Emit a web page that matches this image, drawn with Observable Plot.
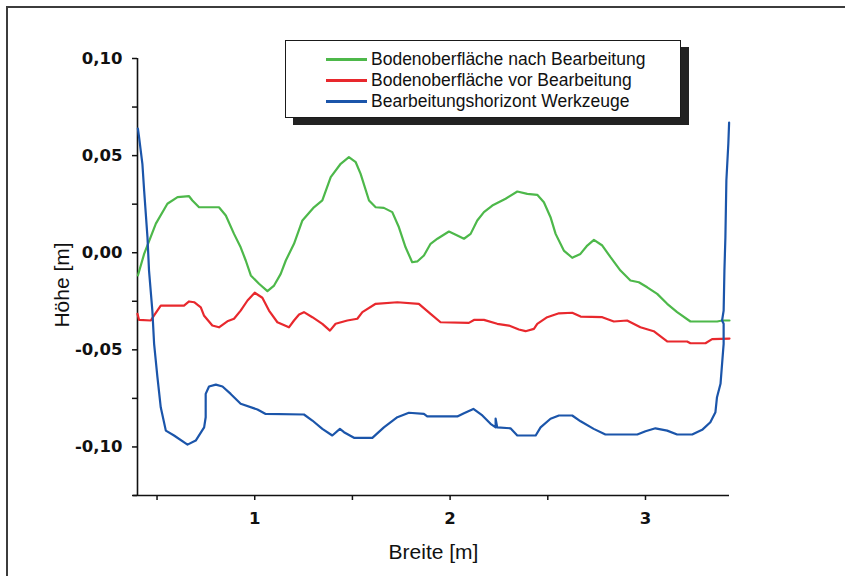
<!DOCTYPE html>
<html>
<head>
<meta charset="utf-8">
<script src="https://cdn.jsdelivr.net/npm/d3@7"></script>
<script src="https://cdn.jsdelivr.net/npm/@observablehq/plot@0.6"></script>
<style>
  html, body { margin: 0; padding: 0; background: #fff; }
  #wrap { position: relative; width: 845px; height: 576px; overflow: hidden; font-family: "Liberation Sans", Arial, sans-serif; }
  #frame { position: absolute; left: 6px; top: 6px; right: -10px; bottom: -10px; border-left: 2px solid #3c3c3c; border-top: 2px solid #3c3c3c; pointer-events: none; }
  #chart { position: absolute; left: 0; top: 0; }
  #legend { position: absolute; left: 285px; top: 40px; width: 394px; height: 76px; background: #fff; border: 1.5px solid #1a1a1a; box-shadow: 8px 7px 0 #222; }
  .row { position: absolute; left: 0; height: 21px; font-size: 17.5px; color: #111; white-space: nowrap; }
  .sw { position: absolute; left: 40px; width: 41px; height: 0; border-top: 3px solid; top: 9px; }
  .lab { position: absolute; left: 85px; top: 0; line-height: 21px; }
</style>
</head>
<body>
<div id="wrap">
  <div id="chart"></div>
  <div id="frame"></div>
  <div id="legend"></div>
</div>
<script>
// Series names and colours
const seriesNames = ["Bodenoberfläche nach Bearbeitung", "Bodenoberfläche vor Bearbeitung", "Bearbeitungshorizont Werkzeuge"];
const seriesColors = ["#4db84a", "#e8282d", "#1b55aa"];

// Bodenoberfläche nach Bearbeitung (green)
const nachX = [0.402,0.434,0.494,0.553,0.605,0.664,0.681,0.715,0.817,0.852,0.894,0.928,0.954,0.980,1.022,1.065,1.099,1.133,1.159,1.201,1.244,1.303,1.346,1.389,1.440,1.482,1.517,1.542,1.585,1.619,1.661,1.704,1.738,1.772,1.806,1.832,1.866,1.900,1.935,1.994,2.037,2.071,2.105,2.139,2.173,2.216,2.284,2.344,2.395,2.446,2.480,2.514,2.540,2.582,2.625,2.667,2.702,2.736,2.779,2.821,2.872,2.923,2.966,3.009,3.060,3.111,3.162,3.230,3.367,3.392,3.430];
const nachY = [-0.0117,-0.0006,0.0150,0.0252,0.0286,0.0291,0.0269,0.0234,0.0234,0.0192,0.0097,0.0028,-0.0040,-0.0117,-0.0160,-0.0198,-0.0169,-0.0109,-0.0040,0.0046,0.0166,0.0234,0.0269,0.0389,0.0458,0.0492,0.0466,0.0406,0.0269,0.0234,0.0231,0.0209,0.0131,0.0028,-0.0049,-0.0045,-0.0014,0.0046,0.0072,0.0109,0.0089,0.0072,0.0097,0.0166,0.0209,0.0243,0.0278,0.0315,0.0303,0.0298,0.0260,0.0183,0.0097,0.0011,-0.0026,-0.0006,0.0037,0.0066,0.0037,-0.0023,-0.0092,-0.0143,-0.0152,-0.0178,-0.0212,-0.0263,-0.0306,-0.0354,-0.0354,-0.0349,-0.0349];

// Bodenoberfläche vor Bearbeitung (red)
const vorX = [0.400,0.408,0.468,0.485,0.519,0.638,0.664,0.690,0.724,0.740,0.783,0.817,0.860,0.894,0.928,0.963,1.000,1.039,1.073,1.116,1.175,1.201,1.227,1.252,1.295,1.346,1.385,1.414,1.474,1.525,1.551,1.619,1.730,1.840,1.900,1.951,2.096,2.122,2.173,2.241,2.301,2.352,2.386,2.429,2.446,2.497,2.557,2.625,2.668,2.779,2.838,2.906,2.974,3.042,3.094,3.111,3.213,3.230,3.307,3.341,3.430];
const vorY = [-0.0315,-0.0346,-0.0349,-0.0323,-0.0272,-0.0272,-0.0251,-0.0255,-0.0281,-0.0323,-0.0375,-0.0384,-0.0353,-0.0340,-0.0298,-0.0246,-0.0206,-0.0232,-0.0298,-0.0358,-0.0384,-0.0349,-0.0318,-0.0306,-0.0332,-0.0366,-0.0401,-0.0366,-0.0349,-0.0340,-0.0306,-0.0263,-0.0255,-0.0263,-0.0315,-0.0358,-0.0361,-0.0346,-0.0346,-0.0366,-0.0375,-0.0395,-0.0404,-0.0392,-0.0366,-0.0332,-0.0312,-0.0309,-0.0329,-0.0332,-0.0354,-0.0349,-0.0384,-0.0404,-0.0443,-0.0456,-0.0457,-0.0466,-0.0466,-0.0445,-0.0442];

// Bearbeitungshorizont Werkzeuge (blue)
const horizontX = [0.402,0.408,0.425,0.434,0.451,0.459,0.476,0.485,0.502,0.519,0.545,0.587,0.656,0.698,0.741,0.749,0.749,0.766,0.801,0.835,0.877,0.928,1.014,1.056,1.252,1.295,1.346,1.397,1.436,1.457,1.508,1.602,1.661,1.730,1.789,1.866,1.883,2.037,2.071,2.119,2.165,2.207,2.233,2.233,2.241,2.309,2.344,2.438,2.463,2.514,2.557,2.625,2.668,2.735,2.795,2.958,3.000,3.051,3.111,3.162,3.239,3.290,3.332,3.358,3.366,3.384,3.392,3.400,3.400,3.392,3.400,3.404,3.409,3.414,3.424,3.428];
const horizontY = [0.0639,0.0595,0.0458,0.0320,0.0080,-0.0092,-0.0298,-0.0469,-0.0641,-0.0796,-0.0916,-0.0941,-0.0988,-0.0967,-0.0899,-0.0847,-0.0727,-0.0689,-0.0679,-0.0689,-0.0727,-0.0778,-0.0807,-0.0830,-0.0833,-0.0864,-0.0907,-0.0941,-0.0907,-0.0924,-0.0953,-0.0953,-0.0899,-0.0847,-0.0824,-0.0830,-0.0843,-0.0843,-0.0826,-0.0804,-0.0838,-0.0881,-0.0899,-0.0854,-0.0899,-0.0904,-0.0941,-0.0941,-0.0899,-0.0855,-0.0838,-0.0838,-0.0868,-0.0907,-0.0936,-0.0936,-0.0919,-0.0904,-0.0916,-0.0936,-0.0936,-0.0912,-0.0873,-0.0821,-0.0744,-0.0675,-0.0572,-0.0469,-0.0366,-0.0349,-0.0298,-0.0092,0.0080,0.0372,0.0561,0.0670];

// Axis ticks
const xTicks = [0.5, 1, 1.5, 2, 2.5, 3];
const xTickLabels = {1: "1", 2: "2", 3: "3"};
const yTicks = [-0.125, -0.1, -0.075, -0.05, -0.025, 0, 0.025, 0.05, 0.075, 0.1];
const yTickLabels = {"-0.1": "-0,10", "-0.05": "-0,05", "0": "0,00", "0.05": "0,05", "0.1": "0,10"};
const xDomain = [0.40, 3.43];
const yDomain = [-0.125, 0.10];
const xTitle = "Breite [m]";
const yTitle = "Höhe [m]";

const toRows = (xs, ys, name) => xs.map((x, i) => ({x, y: ys[i], name}));
const series = [
  toRows(nachX, nachY, seriesNames[0]),
  toRows(vorX, vorY, seriesNames[1]),
  toRows(horizontX, horizontY, seriesNames[2])
];

const font = "'Liberation Sans', Arial, sans-serif";
const tickFont = "'DejaVu Sans', sans-serif";
const plot = Plot.plot({
  width: 845,
  height: 576,
  marginLeft: 137,
  marginRight: 116,
  marginTop: 58,
  marginBottom: 81,
  style: {fontFamily: font, color: "#111", background: "transparent", overflow: "visible"},
  x: {domain: xDomain, axis: null},
  y: {domain: yDomain, axis: null},
  marks: [
    Plot.axisX({ticks: xTicks, tickSize: 5, tickPadding: 12, strokeWidth: 1.5, fontSize: 16.5, fontWeight: "bold", fontFamily: tickFont, tickFormat: d => xTickLabels[d] || "", label: null}),
    Plot.axisY({ticks: yTicks, tickSize: 5, tickPadding: 10, strokeWidth: 1.5, fontSize: 16.5, fontWeight: "bold", fontFamily: tickFont, tickFormat: d => yTickLabels[String(Math.round(d * 1000) / 1000)] || "", label: null}),
    Plot.ruleX([xDomain[0]], {stroke: "#111", strokeWidth: 1.6}),
    Plot.ruleY([yDomain[0]], {stroke: "#111", strokeWidth: 1.6, x1: xDomain[0] - 0.02, x2: xDomain[1]}),
    ...series.map((rows, i) => Plot.line(rows, {x: "x", y: "y", stroke: seriesColors[i], strokeWidth: 2.2, strokeLinejoin: "round", clip: false})),
    Plot.text([yTitle], {frameAnchor: "left", dx: -75, dy: 8, rotate: -90, fontSize: 21, textAnchor: "middle", lineAnchor: "middle", fill: "#111"}),
    Plot.text([xTitle], {frameAnchor: "bottom", dy: 57, fontSize: 21, textAnchor: "middle", lineAnchor: "middle", fill: "#111"})
  ]
});
document.getElementById("chart").appendChild(plot);

const legend = document.getElementById("legend");
seriesNames.forEach((name, i) => {
  const row = document.createElement("div");
  row.className = "row";
  row.style.top = (8 + i * 21) + "px";
  row.style.width = "100%";
  const sw = document.createElement("div");
  sw.className = "sw";
  sw.style.borderColor = seriesColors[i];
  const lab = document.createElement("div");
  lab.className = "lab";
  lab.textContent = name;
  row.appendChild(sw);
  row.appendChild(lab);
  legend.appendChild(row);
});
</script>
</body>
</html>
